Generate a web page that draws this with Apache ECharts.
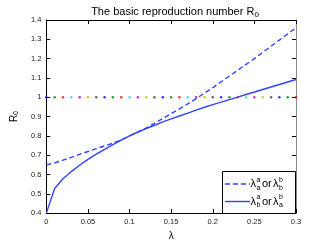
<!DOCTYPE html>
<html>
<head>
<meta charset="utf-8">
<script src="https://cdn.jsdelivr.net/npm/echarts@6/dist/echarts.min.js"></script>
<style>html,body{margin:0;padding:0;background:#fff}#c{width:327px;height:246px}</style>
</head>
<body>
<div id="c"></div>
<script>
var lambdas = [0,0.01,0.02,0.03,0.04,0.05,0.06,0.07,0.08,0.09,0.1,0.11,0.12,0.13,0.14,0.15,0.16,0.17,0.18,0.19,0.2,0.21,0.22,0.23,0.24,0.25,0.26,0.27,0.28,0.29,0.3];
var dashedR = [0.65,0.66,0.674,0.689,0.704,0.719,0.734,0.748,0.762,0.779,0.8,0.82,0.84,0.865,0.89,0.915,0.94,0.966,0.993,1.021,1.05,1.08,1.11,1.14,1.17,1.2,1.232,1.264,1.296,1.328,1.36];
var solidR = [0.4,0.527,0.578,0.615,0.648,0.678,0.705,0.73,0.755,0.778,0.8,0.82,0.838,0.855,0.872,0.888,0.903,0.918,0.933,0.948,0.962,0.975,0.988,1.001,1.014,1.027,1.04,1.053,1.066,1.079,1.092];
var thresholdR = 1;
var dotColors = ['#0000ff','#008000','#ff0000','#40d0c0','#b000c0','#c0c000','#404040'];
var xTicks = {min:0, max:0.3, interval:0.05};
var yTicks = {min:0.4, max:1.4, interval:0.1};
var titleText = 'The basic reproduction number R';

var FONT = 'Liberation Sans';
var LINE = '#2f45ff';
var chart = echarts.init(document.getElementById('c'), null, {renderer:'canvas'});
function fmt(v){ return String(+(+v).toFixed(2)); }
function pairs(ys){ return lambdas.map(function(x,i){ return [x, ys[i]]; }); }

var axisCommon = {
  axisLine:{show:true,onZero:false,lineStyle:{color:'#000',width:1}},
  axisTick:{show:true,inside:true,length:4,lineStyle:{color:'#000'}},
  splitLine:{show:false}
};
function ax(base, extra){ return Object.assign({}, axisCommon, base, extra); }

var option = {
  animation:false,
  backgroundColor:'#fff',
  title:{
    text:'{m|'+titleText+'}{s|0}',
    left:170, textAlign:'center', top:0,
    textStyle:{fontWeight:'normal',rich:{
      m:{fontFamily:FONT,fontSize:11,fontWeight:'normal',color:'#000',lineHeight:14},
      s:{fontFamily:FONT,fontSize:8,fontWeight:'normal',color:'#000',lineHeight:14,padding:[6,0,0,0]}
    }}
  },
  grid:{left:42,right:31,top:20,bottom:28},
  xAxis:[
    ax({type:'value',min:xTicks.min,max:xTicks.max,interval:xTicks.interval,position:'bottom',
      name:'λ',nameLocation:'middle',nameGap:15,
      nameTextStyle:{fontFamily:FONT,fontSize:10,color:'#000'},
      axisLabel:{fontFamily:FONT,fontSize:7.5,color:'#222',margin:5,formatter:fmt}}),
    ax({type:'value',min:xTicks.min,max:xTicks.max,interval:xTicks.interval,position:'top',
      axisLabel:{show:false}})
  ],
  yAxis:[
    ax({type:'value',min:yTicks.min,max:yTicks.max,interval:yTicks.interval,position:'left',
      name:'{m|R}{s|0}',nameLocation:'middle',nameGap:18,nameRotate:90,
      nameTextStyle:{rich:{
        m:{fontFamily:FONT,fontSize:10,color:'#000',lineHeight:13},
        s:{fontFamily:FONT,fontSize:7,color:'#000',lineHeight:13,padding:[5,0,0,0]}
      }},
      axisLabel:{fontFamily:FONT,fontSize:7.5,color:'#222',margin:5,formatter:fmt}}),
    ax({type:'value',min:yTicks.min,max:yTicks.max,interval:yTicks.interval,position:'right',
      axisLine:{show:true,onZero:false,lineStyle:{color:'#888',width:1}},
      axisLabel:{show:false}})
  ],
  series:[
    {type:'scatter',data:lambdas.map(function(x){return [x,thresholdR];}),symbol:'circle',symbolSize:2.5,
      itemStyle:{color:function(p){return dotColors[p.dataIndex % dotColors.length];}},z:1},
    {type:'line',data:pairs(dashedR),showSymbol:false,symbol:'none',smooth:false,
      lineStyle:{color:LINE,width:1.4,type:[5,3]},z:3},
    {type:'line',data:pairs(solidR),showSymbol:false,symbol:'none',smooth:false,
      lineStyle:{color:LINE,width:1.4},z:3}
  ],
  graphic:[
    {type:'rect',shape:{x:222.5,y:171.5,width:73,height:42},style:{fill:'#fff',stroke:'#000',lineWidth:1},z:10},
    {type:'line',shape:{x1:225,y1:184,x2:250,y2:184},style:{stroke:LINE,lineWidth:1.4,lineDash:[5,3]},z:11},
    {type:'line',shape:{x1:225,y1:201.5,x2:250,y2:201.5},style:{stroke:LINE,lineWidth:1.4},z:11},
    {type:'text',x:250.5,y:184,style:{text:'λ',font:'11px '+FONT,fill:'#000',textVerticalAlign:'middle'},z:11},
    {type:'text',x:256.5,y:180,style:{text:'a',font:'7px '+FONT,fill:'#000',textVerticalAlign:'middle'},z:11},
    {type:'text',x:256.5,y:188,style:{text:'a',font:'7px '+FONT,fill:'#000',textVerticalAlign:'middle'},z:11},
    {type:'text',x:262,y:184,style:{text:'or',font:'11px '+FONT,fill:'#000',textVerticalAlign:'middle'},z:11},
    {type:'text',x:273,y:184,style:{text:'λ',font:'11px '+FONT,fill:'#000',textVerticalAlign:'middle'},z:11},
    {type:'text',x:279,y:180,style:{text:'b',font:'7px '+FONT,fill:'#000',textVerticalAlign:'middle'},z:11},
    {type:'text',x:279,y:188,style:{text:'b',font:'7px '+FONT,fill:'#000',textVerticalAlign:'middle'},z:11},
    {type:'text',x:250.5,y:201.5,style:{text:'λ',font:'11px '+FONT,fill:'#000',textVerticalAlign:'middle'},z:11},
    {type:'text',x:256.5,y:197.5,style:{text:'a',font:'7px '+FONT,fill:'#000',textVerticalAlign:'middle'},z:11},
    {type:'text',x:256.5,y:205.5,style:{text:'b',font:'7px '+FONT,fill:'#000',textVerticalAlign:'middle'},z:11},
    {type:'text',x:262,y:201.5,style:{text:'or',font:'11px '+FONT,fill:'#000',textVerticalAlign:'middle'},z:11},
    {type:'text',x:273,y:201.5,style:{text:'λ',font:'11px '+FONT,fill:'#000',textVerticalAlign:'middle'},z:11},
    {type:'text',x:279,y:197.5,style:{text:'b',font:'7px '+FONT,fill:'#000',textVerticalAlign:'middle'},z:11},
    {type:'text',x:279,y:205.5,style:{text:'a',font:'7px '+FONT,fill:'#000',textVerticalAlign:'middle'},z:11}
  ]
};
chart.setOption(option);
</script>
</body>
</html>
